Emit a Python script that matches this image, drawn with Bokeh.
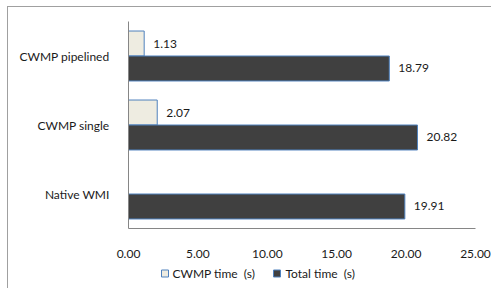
from bokeh.plotting import figure
from bokeh.layouts import column
from bokeh.models import ColumnDataSource, Range1d, FactorRange, FixedTicker, NumeralTickFormatter
from bokeh.transform import dodge
from bokeh.core.properties import value
from bokeh.embed import file_html
from bokeh.resources import INLINE

categories = ["CWMP pipelined", "CWMP single", "Native WMI"]
cwmp_time = [1.13, 2.07, 0.0]
total_time = [18.79, 20.82, 19.91]
x_ticks = [0, 5, 10, 15, 20, 25]
series_names = ["CWMP time\u00a0 (s)", "Total time\u00a0 (s)"]

FONT = "Lato"
TXT = "#1a1a1a"
EDGE = "#4f81bd"
FILL_CWMP = "#eeece1"
FILL_TOTAL = "#404040"

def lbl(v):
    return "" if v == 0 else f"{v:.2f}"

src = ColumnDataSource(dict(
    cat=categories,
    cwmp=cwmp_time,
    total=total_time,
    cwmp_lbl=[lbl(v) for v in cwmp_time],
    total_lbl=[lbl(v) for v in total_time],
))

p = figure(
    width=483, height=253,
    x_range=Range1d(0, 25),
    y_range=FactorRange(factors=list(reversed(categories)), range_padding=0),
    output_backend="svg", toolbar_location=None,
    min_border_left=120, min_border_right=16, min_border_top=14, min_border_bottom=32,
)
p.y_range.range_padding = 0
p.y_range.factor_padding = 0

bh = 0.362
p.hbar(y=dodge("cat", 0.181, range=p.y_range), left=0, right="cwmp", height=bh,
       source=src, fill_color=FILL_CWMP, line_color=EDGE, line_width=1)
p.hbar(y=dodge("cat", -0.181, range=p.y_range), left=0, right="total", height=bh,
       source=src, fill_color=FILL_TOTAL, line_color=EDGE, line_width=1)

p.text(x="cwmp", y=dodge("cat", 0.181, range=p.y_range), text="cwmp_lbl", source=src,
       x_offset=9, text_baseline="middle", text_align="left",
       text_font=value(FONT), text_font_size="12px", text_color=TXT)
p.text(x="total", y=dodge("cat", -0.181, range=p.y_range), text="total_lbl", source=src,
       x_offset=9, text_baseline="middle", text_align="left",
       text_font=value(FONT), text_font_size="12px", text_color=TXT)

p.xaxis.ticker = FixedTicker(ticks=x_ticks)
p.xaxis.formatter = NumeralTickFormatter(format="0.00")
for ax in (p.xaxis, p.yaxis):
    ax.major_tick_line_color = None
    ax.minor_tick_line_color = None
    ax.axis_line_color = "#868686"
    ax.major_label_text_font = FONT
    ax.major_label_text_font_size = "12px"
    ax.major_label_text_color = TXT
p.xaxis.major_label_standoff = 15
p.yaxis.major_label_standoff = 13

p.xgrid.grid_line_color = None
p.ygrid.grid_line_color = None
p.outline_line_color = None

# legend strip below the chart; its frame is aligned with the chart's frame,
# so its x range spans the same canvas pixels (120..467) at 1 unit per pixel
p2 = figure(width=483, height=28, x_range=Range1d(120, 467), y_range=Range1d(0, 28),
            x_axis_type=None, y_axis_type=None, output_backend="svg", toolbar_location=None,
            min_border_left=120, min_border_right=16, min_border_top=0, min_border_bottom=0)
p2.outline_line_color = None
p2.xgrid.grid_line_color = None
p2.ygrid.grid_line_color = None

leg_src = ColumnDataSource(dict(
    gx=[156.5, 268.5],
    tx=[164, 277],
    y=[15, 15],
    fill=[FILL_CWMP, FILL_TOTAL],
    label=series_names,
))
p2.rect(x="gx", y="y", width=7, height=7, source=leg_src,
        fill_color="fill", line_color=EDGE, line_width=1)
p2.text(x="tx", y="y", text="label", source=leg_src,
        text_baseline="middle", text_align="left",
        text_font=value(FONT), text_font_size="12px", text_color=TXT)

layout = column(p, p2, spacing=0,
                styles={"position": "relative", "left": "7px", "top": "6px",
                        "border-top": "1px solid #a0a0a0", "border-left": "1px solid #a0a0a0"})

open("out.html", "w").write(file_html(layout, INLINE))
